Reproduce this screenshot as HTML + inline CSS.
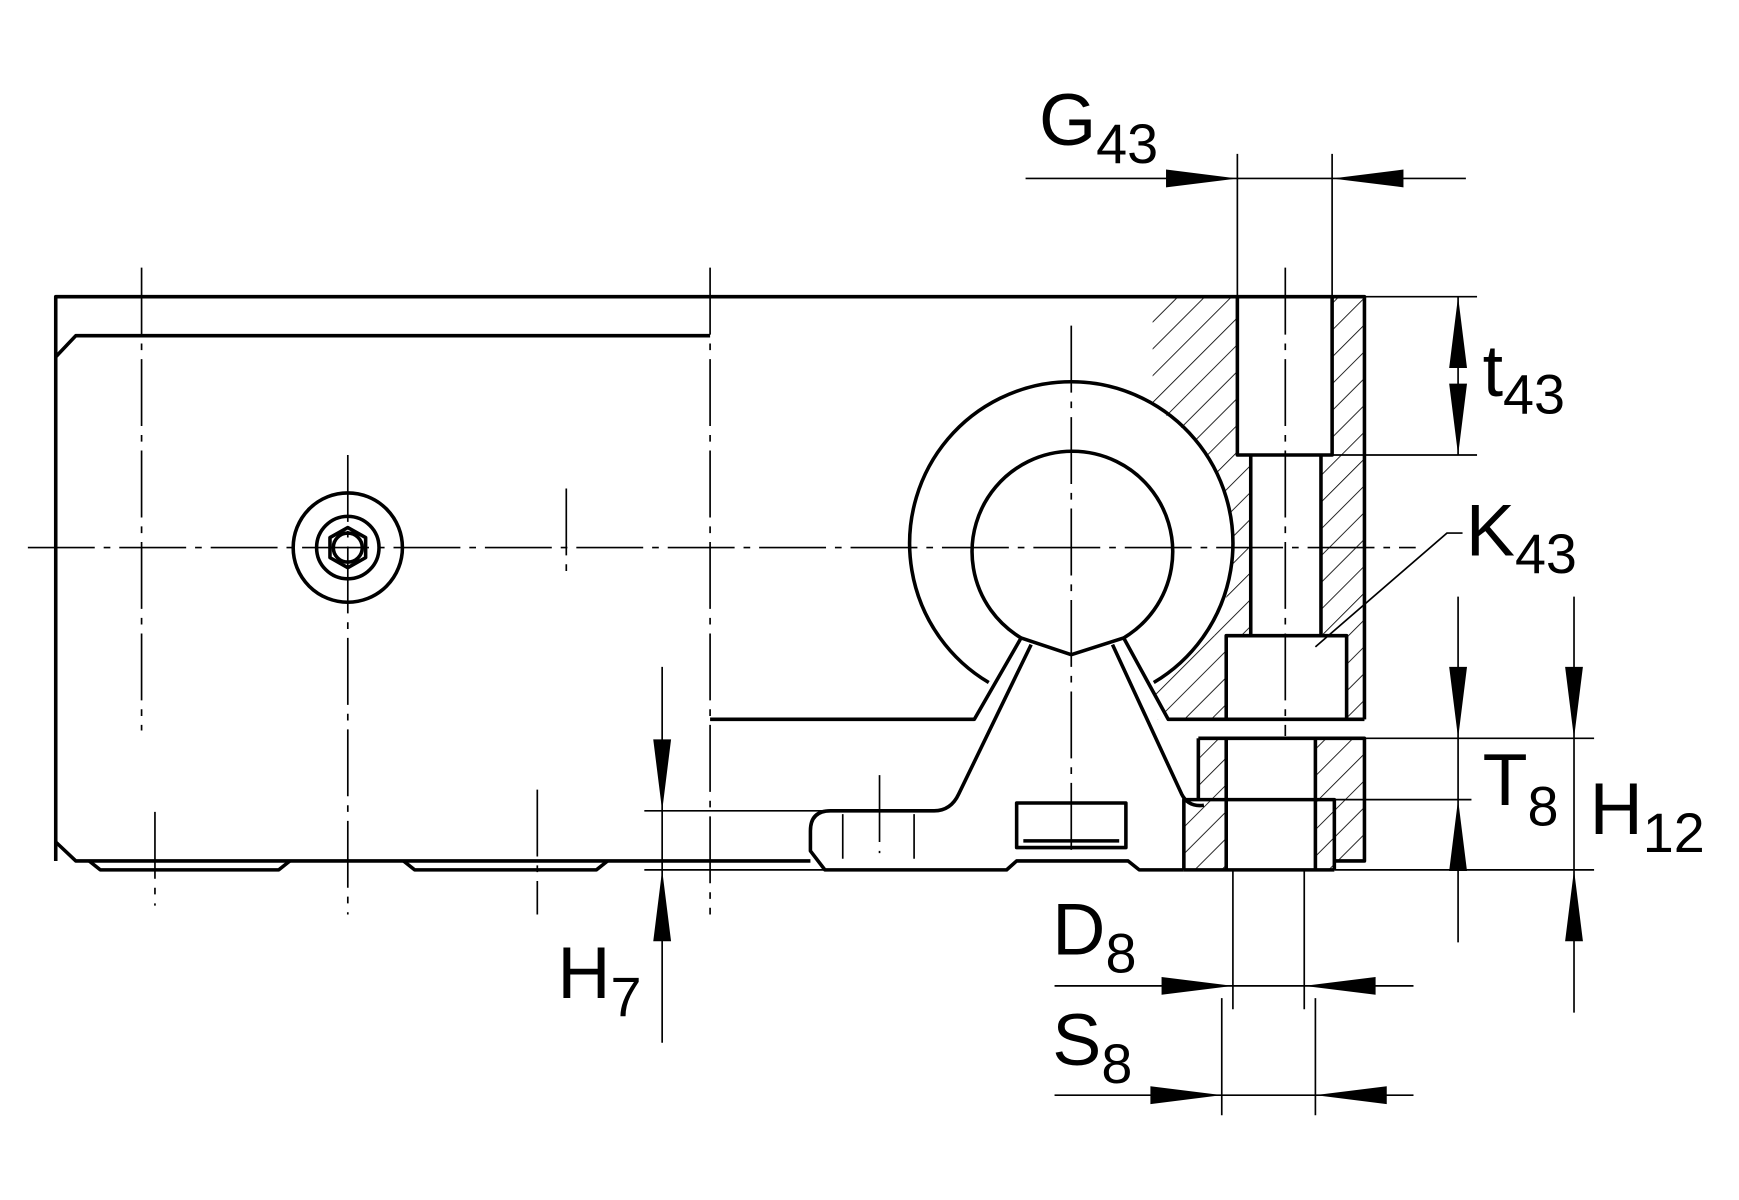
<!DOCTYPE html>
<html><head><style>html,body{margin:0;padding:0;background:#fff}svg{display:block}</style></head>
<body>
<svg width="1739" height="1200" viewBox="0 0 1560 1076" preserveAspectRatio="none" xmlns="http://www.w3.org/2000/svg">
<defs>
<pattern id="h" width="17" height="17" patternUnits="userSpaceOnUse" patternTransform="rotate(45)">
<line x1="0" y1="0" x2="0" y2="17" stroke="#000" stroke-width="1.5"/></pattern>
<mask id="m">
<rect x="0" y="0" width="1560" height="1076" fill="#fff"/>
<circle cx="961" cy="491" r="146" fill="#000"/>
<polygon points="1008,572 1048,645 1034,645 990,572" fill="#000"/>
</mask>
</defs>
<g fill="url(#h)" stroke="none">
<g mask="url(#m)">
<rect x="1034" y="266" width="76" height="142"/>
<rect x="1034" y="408" width="88" height="162"/>
<rect x="1034" y="570" width="66" height="75"/>
</g>
<rect x="1185" y="408" width="39" height="162"/>
<rect x="1195" y="266" width="29" height="142"/>
<rect x="1208" y="570" width="16" height="75"/>
<rect x="1075" y="662" width="25" height="55"/>
<rect x="1062" y="717" width="38" height="63"/>
<rect x="1180" y="662" width="44" height="55"/>
<rect x="1197" y="717" width="27" height="55"/>
<rect x="1180" y="717" width="17" height="63"/>
</g>
<g fill="none" stroke="#000" stroke-width="3.2" stroke-linejoin="round">
<polyline points="50,772 50,266 1224,266 1224,645"/>
<polyline points="50,320 68,301 637,301"/>
<polyline points="50,755 68,772 727,772"/>
<polyline points="80,772 90,780 250,780 260,772"/>
<polyline points="362,772 372,780 535,780 545,772"/>
<circle cx="312" cy="491" r="49"/>
<circle cx="312" cy="491" r="28"/>
<polygon points="312,473 328,482 328,500 312,509 296,500 296,482"/>
<circle cx="312" cy="491" r="13"/>
<polyline points="637,645 874,645 916,572"/>
<path d="M887,612 A145,145 0 1 1 1035,612"/>
<path d="M916,572 A90,90 0 1 1 1008,572 L961,587 Z"/>
<path d="M925,578 L860,712 Q853,727 838,727 L745,727 Q727,727 727,745 L727,763 L740,780 L903,780 L912,772 L1012,772 L1022,780 L1062,780"/>
<path d="M998,578 L1060,712 Q1066,724 1080,722"/>
<polyline points="1008,572 1048,645 1224,645"/>
<rect x="912" y="720" width="98" height="40"/>
<line x1="918" y1="754" x2="1004" y2="754"/>
<polyline points="1110,266 1110,408 1195,408 1195,266"/>
<line x1="1122" y1="408" x2="1122" y2="570"/>
<line x1="1185" y1="408" x2="1185" y2="570"/>
<polyline points="1100,645 1100,570 1208,570 1208,645"/>
<polyline points="1075,662 1224,662 1224,772 1197,772"/>
<line x1="1075" y1="662" x2="1075" y2="717"/>
<polyline points="1062,780 1062,717 1197,717 1197,780"/>
<line x1="1100" y1="662" x2="1100" y2="780"/>
<line x1="1180" y1="662" x2="1180" y2="780"/>
<line x1="1062" y1="780" x2="1197" y2="780"/>
</g>
<g stroke="#000" stroke-width="1.5" fill="none">
<g stroke-dasharray="60,8,6,8">
<line x1="25" y1="491" x2="1270" y2="491"/>
<line x1="127" y1="240" x2="127" y2="655"/>
<line x1="637" y1="240" x2="637" y2="820"/>
<line x1="312" y1="408" x2="312" y2="820"/>
<line x1="508" y1="438" x2="508" y2="520"/>
<line x1="482" y1="708" x2="482" y2="820"/>
<line x1="139" y1="728" x2="139" y2="812"/>
<line x1="789" y1="695" x2="789" y2="765"/>
<line x1="961" y1="292" x2="961" y2="770"/>
<line x1="1153" y1="240" x2="1153" y2="660"/>
</g>
<line x1="756" y1="730" x2="756" y2="770"/><line x1="820" y1="730" x2="820" y2="770"/>
<line x1="578" y1="727" x2="745" y2="727"/>
<line x1="578" y1="780" x2="740" y2="780"/>
<line x1="1110" y1="138" x2="1110" y2="266"/><line x1="1195" y1="138" x2="1195" y2="266"/>
<line x1="920" y1="160" x2="1315" y2="160"/>
<line x1="1224" y1="266" x2="1325" y2="266"/><line x1="1195" y1="408" x2="1325" y2="408"/>
<line x1="1308" y1="266" x2="1308" y2="408"/>
<polyline points="1180,580 1298,478 1312,478"/>
<line x1="1224" y1="662" x2="1430" y2="662"/>
<line x1="1197" y1="717" x2="1320" y2="717"/>
<line x1="1197" y1="780" x2="1430" y2="780"/>
<line x1="1308" y1="535" x2="1308" y2="845"/>
<line x1="1412" y1="535" x2="1412" y2="908"/>
<line x1="594" y1="598" x2="594" y2="935"/>
<line x1="1106" y1="780" x2="1106" y2="905"/><line x1="1170" y1="780" x2="1170" y2="905"/>
<line x1="946" y1="884" x2="1268" y2="884"/>
<line x1="1096" y1="895" x2="1096" y2="1000"/><line x1="1180" y1="895" x2="1180" y2="1000"/>
<line x1="946" y1="982" x2="1268" y2="982"/>
</g>
<g fill="#000">
<polygon points="1110,160 1046,152 1046,168"/>
<polygon points="1195,160 1259,152 1259,168"/>
<polygon points="1308,266 1300,330 1316,330"/>
<polygon points="1308,408 1300,344 1316,344"/>
<polygon points="1308,662 1300,598 1316,598"/>
<polygon points="1308,717 1300,781 1316,781"/>
<polygon points="1412,662 1404,598 1420,598"/>
<polygon points="1412,780 1404,844 1420,844"/>
<polygon points="594,727 586,663 602,663"/>
<polygon points="594,780 586,844 602,844"/>
<polygon points="1106,884 1042,876 1042,892"/>
<polygon points="1170,884 1234,876 1234,892"/>
<polygon points="1096,982 1032,974 1032,990"/>
<polygon points="1180,982 1244,974 1244,990"/>
</g>
<g font-family="Liberation Sans, sans-serif" fill="#000" font-size="66">
<text x="932" y="130">G<tspan font-size="50" dy="16">43</tspan></text>
<text x="1330" y="355">t<tspan font-size="50" dy="16">43</tspan></text>
<text x="1315" y="498">K<tspan font-size="50" dy="16">43</tspan></text>
<text x="1330" y="722">T<tspan font-size="50" dy="18">8</tspan></text>
<text x="1426" y="748">H<tspan font-size="50" dy="16">12</tspan></text>
<text x="500" y="895">H<tspan font-size="50" dy="16">7</tspan></text>
<text x="944" y="856">D<tspan font-size="50" dy="16">8</tspan></text>
<text x="944" y="955">S<tspan font-size="50" dy="16">8</tspan></text>
</g>
</svg>
</body></html>
